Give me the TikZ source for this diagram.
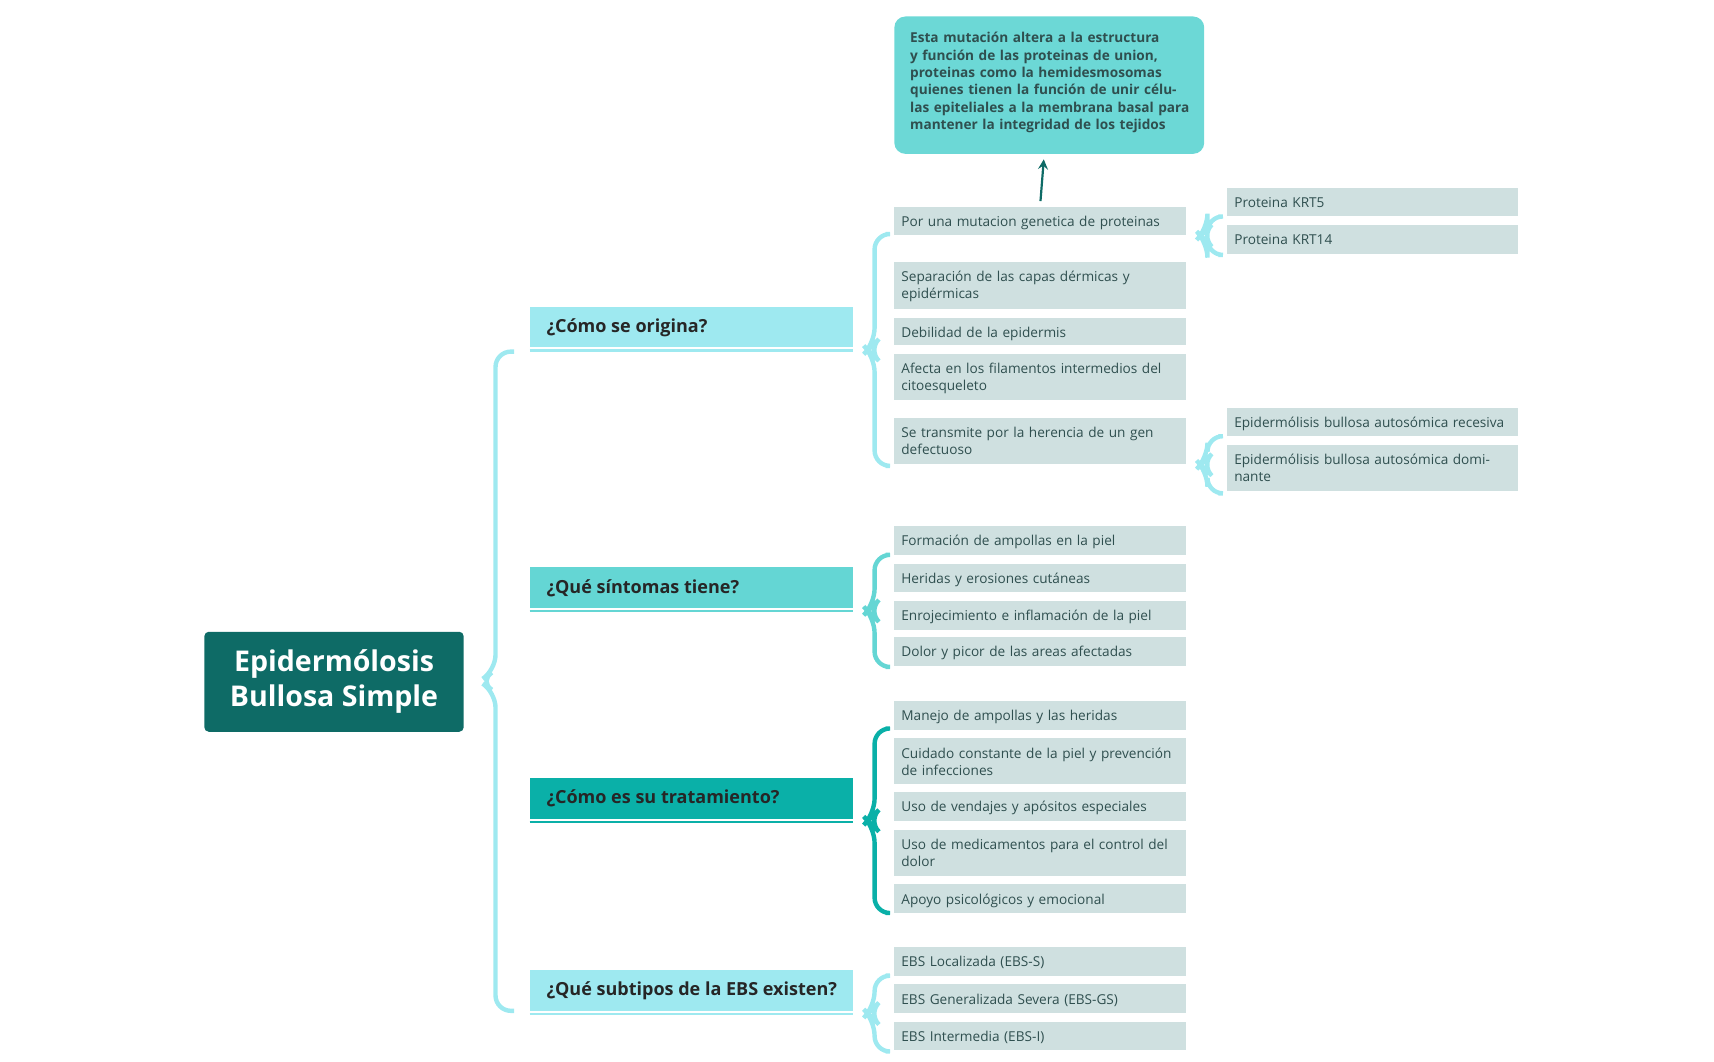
\documentclass[tikz,border=0pt]{standalone}
\usepackage{fontspec}
\setmainfont{Open Sans}
\definecolor{dark}{HTML}{0E6B66}
\definecolor{light}{HTML}{9EE9F0}
\definecolor{mid}{HTML}{64D6D4}
\definecolor{teal}{HTML}{0AB0A8}
\definecolor{item}{HTML}{CFE0E0}
\definecolor{txt}{HTML}{2F4F4F}
\begin{document}
\begin{tikzpicture}[x=0.5pt,y=-0.5pt,
  itm/.style={fill=item,draw=none,inner sep=0pt},
  itxt/.style={anchor=north west,align=left,text width=125pt,font=\fontsize{6.2}{7.8}\selectfont,text=txt,inner sep=0pt},
  hdr/.style={draw=none,inner sep=0pt},
  htxt/.style={anchor=west,font=\fontsize{8.2}{10}\selectfont\bfseries,text=black!85,inner sep=0pt},
  br/.style={line width=2pt,rounded corners=7pt}]
\useasboundingbox (0,0) rectangle (1560,966);
% title
\fill[dark,rounded corners=2pt] (186,575) rectangle (422,666);
\node[text=white,font=\fontsize{13}{16}\selectfont\bfseries,align=center] (title) at (304,620) {Epidermólosis\\Bullosa Simple};
% big bracket
\draw[br,light] (468,320) -- (451,320) -- (451,610) -- (436,620) -- (451,630) -- (451,920) -- (468,920);
% headers
\newcommand{\hd}[4]{\fill[#2] (482,#3) rectangle (776,#3+37); \draw[#2,line width=1pt] (482,#3+40) -- (776,#3+40);
  \node[htxt] (#1) at (497,#3+19) {#4};}
\hd{h1}{light}{279}{¿Cómo se origina?}
\hd{h2}{mid}{516}{¿Qué síntomas tiene?}
\hd{h3}{teal}{708}{¿Cómo es su tratamiento?}
\hd{h4}{light}{883}{¿Qué subtipos de la EBS existen?}
% brackets
\newcommand{\brk}[4]{\draw[br,#1] (#2+10,#3) -- (#2,#3) -- (#2,{(#3+#4)/2-6}) -- (#2-6,{(#3+#4)/2}) -- (#2,{(#3+#4)/2+6}) -- (#2,#4) -- (#2+10,#4);}
\brk{light}{796}{213}{424}
\brk{mid}{796}{505}{607}
\brk{teal}{796}{663}{831}
\brk{light}{796}{888}{957}
\brk{light}{1099}{197}{232}
\brk{light}{1099}{397}{449}
% items
\newcommand{\itb}[5]{\fill[item] (#2,#3) rectangle (#2+265,#4); \node[itxt] (#1) at (#2+6,#3+8) {#5};}
\itb{a1}{814}{188}{214}{Por una mutacion genetica de proteinas}
\itb{a2}{814}{238}{281}{Separación de las capas dérmicas y epidérmicas}
\itb{a3}{814}{289}{314}{Debilidad de la epidermis}
\itb{a4}{814}{322}{364}{Afecta en los filamentos intermedios del citoesqueleto}
\itb{a5}{814}{380}{422}{Se transmite por la herencia de un gen defectuoso}
\itb{b1}{814}{479}{505}{Formación de ampollas en la piel}
\itb{b2}{814}{513}{539}{Heridas y erosiones cutáneas}
\itb{b3}{814}{547}{573}{Enrojecimiento e inflamación de la piel}
\itb{b4}{814}{580}{606}{Dolor y picor de las areas afectadas}
\itb{c1}{814}{638}{664}{Manejo de ampollas y las heridas}
\itb{c2}{814}{672}{714}{Cuidado constante de la piel y prevención de infecciones}
\itb{c3}{814}{721}{747}{Uso de vendajes y apósitos especiales}
\itb{c4}{814}{755}{797}{Uso de medicamentos para el control del dolor}
\itb{c5}{814}{805}{831}{Apoyo psicológicos y emocional}
\itb{d1}{814}{862}{888}{EBS Localizada (EBS-S)}
\itb{d2}{814}{896}{922}{EBS Generalizada Severa (EBS-GS)}
\itb{d3}{814}{930}{956}{EBS Intermedia (EBS-I)}
\itb{e1}{1117}{171}{197}{Proteina KRT5}
\itb{e2}{1117}{205}{231}{Proteina KRT14}
\itb{e3}{1117}{371}{397}{Epidermólisis bullosa autosómica recesiva}
\itb{e4}{1117}{405}{447}{Epidermólisis bullosa autosómica dominante}
% top box
\fill[mid!95!white,rounded corners=5pt] (814,15) rectangle (1096,140);
\node[anchor=north west,text width=128pt,align=left,inner sep=0pt,font=\fontsize{6.2}{7.9}\selectfont\bfseries,text=txt] (top) at (828,29) {Esta mutación altera a la estructura y función de las proteinas de union, proteinas como la hemidesmosomas quienes tienen la función de unir células epiteliales a la membrana basal para mantener la integridad de los tejidos};
\coordinate (as) at (947,183);
\coordinate (ae) at (950,145);
\draw[dark,line width=1pt,-stealth] (as) -- (ae);
\end{tikzpicture}
\end{document}
